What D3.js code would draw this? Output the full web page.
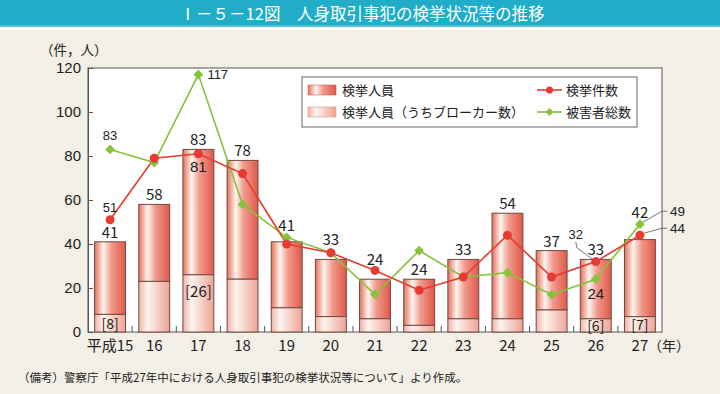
<!DOCTYPE html>
<html>
  <head>
    <meta charset="utf-8">
    <title>人身取引事犯の検挙状況等の推移</title>
    <style>
      body { margin: 0; background: #f2efe7; }
      svg { display: block; font-family: "Noto Sans CJK JP", "Noto Sans", sans-serif; }
      .tick text { font-size: 15px; fill: #222; }
      .bar { stroke: #6e4a42; stroke-width: 1px; }
      .lbl-bar { font-size: 15px; fill: #222; text-anchor: middle; }
      .lbl-pt { font-family: "Liberation Sans", Arial, sans-serif; font-size: 13px; fill: #222; text-anchor: middle; }
      .legend text { font-size: 13px; fill: #222; }
    </style>
  </head>
  <body>
    <script src="https://d3js.org/d3.v7.min.js"></script>
    <script>
      const width = 720;
      const height = 394;

      // data
      const years = ["平成15", "16", "17", "18", "19", "20", "21", "22", "23", "24", "25", "26", "27"];
      const arrested = [41, 58, 83, 78, 41, 33, 24, 24, 33, 54, 37, 33, 42];
      const brokers = [8, 23, 26, 24, 11, 7, 6, 3, 6, 6, 10, 6, 7];
      const cases = [51, 79, 81, 72, 40, 36, 28, 19, 25, 44, 25, 32, 44];
      const victims = [83, 77, 117, 58, 43, 36, 17, 37, 25, 27, 17, 24, 49];
      const yTicks = [0, 20, 40, 60, 80, 100, 120];

      // extra lift of bar value labels where lines would cover them
      const barLabelLift = [0, 0, 0, 0, 7, 10, 10, 0, 0, 0, 0, 0, 18];
      // brokers shown in brackets
      const brokerShown = [0, 2, 11, 12];

      const svg = d3.select("body")
        .append("svg")
        .attr("width", width)
        .attr("height", height);

      // gradients
      const defs = svg.append("defs");
      function gradient(id, stops) {
        const g = defs.append("linearGradient").attr("id", id)
          .attr("x1", "0%").attr("x2", "100%").attr("y1", "0%").attr("y2", "0%");
        stops.forEach(s => g.append("stop").attr("offset", s[0]).attr("stop-color", s[1]));
      }
      gradient("gMain", [["0%", "#e4705e"], ["12%", "#f0a797"], ["28%", "#fdf4ef"], ["55%", "#f0998a"], ["100%", "#e0584a"]]);
      gradient("gBroker", [["0%", "#f0b3a6"], ["28%", "#fcf4ef"], ["100%", "#eea495"]]);

      // title bar
      svg.append("rect").attr("x", 0).attr("y", 0).attr("width", width).attr("height", 27).attr("fill", "#21adc8");
      svg.append("rect").attr("x", 0).attr("y", 25).attr("width", width).attr("height", 2).attr("fill", "#5cc3d6");
      svg.append("rect").attr("x", 0).attr("y", 27).attr("width", width).attr("height", 3).attr("fill", "#ffffff");
      svg.append("text")
        .attr("x", 362).attr("y", 19.5)
        .attr("text-anchor", "middle")
        .attr("fill", "#fff")
        .style("font-size", "16.5px")
        .text("Ⅰ－５－12図　人身取引事犯の検挙状況等の推移");

      const plotL = 88, plotR = 662, plotT = 68, plotB = 332;

      const x = d3.scaleBand()
        .domain(years)
        .range([plotL, plotR])
        .paddingInner(0.3)
        .paddingOuter(0.15);

      const y = d3.scaleLinear()
        .domain([0, 120])
        .range([plotB, plotT]);

      const cx = d => x(d) + x.bandwidth() / 2;

      // plot area
      svg.append("rect")
        .attr("x", plotL).attr("y", plotT)
        .attr("width", plotR - plotL).attr("height", plotB - plotT)
        .attr("fill", "#fff")
        .attr("stroke", "#555").attr("stroke-width", 1);

      // y axis
      const yAxis = svg.append("g")
        .attr("transform", `translate(${plotL},0)`)
        .call(d3.axisLeft(y).tickValues(yTicks).tickSizeInner(-5).tickSizeOuter(0).tickPadding(7));
      yAxis.select(".domain").attr("stroke", "#555");
      yAxis.selectAll(".tick line").attr("stroke", "#555");

      svg.append("text")
        .attr("x", 40).attr("y", 55)
        .style("font-size", "13.5px").attr("fill", "#222")
        .text("（件，人）");

      // x ticks at band boundaries
      svg.append("g").selectAll("line")
        .data(years.slice(1))
        .join("line")
        .attr("x1", d => x(d) - x.step() * x.paddingInner() / 2)
        .attr("x2", d => x(d) - x.step() * x.paddingInner() / 2)
        .attr("y1", plotB).attr("y2", plotB - 6)
        .attr("stroke", "#555");

      svg.append("g").selectAll("text")
        .data(years)
        .join("text")
        .attr("x", cx)
        .attr("y", 351)
        .attr("text-anchor", "middle")
        .style("font-size", "15px").attr("fill", "#222")
        .text(d => d);
      svg.append("text")
        .attr("x", cx(years[12]) + 8).attr("y", 351)
        .style("font-size", "14px").attr("fill", "#222")
        .text("（年）");

      // bars
      const rows = years.map((yr, i) => ({ yr, i, total: arrested[i], broker: brokers[i] }));

      svg.append("g").selectAll("rect")
        .data(rows)
        .join("rect")
        .attr("class", "bar")
        .attr("x", d => x(d.yr))
        .attr("y", d => y(d.total))
        .attr("width", x.bandwidth())
        .attr("height", d => y(d.broker) - y(d.total))
        .attr("fill", "url(#gMain)");

      svg.append("g").selectAll("rect")
        .data(rows)
        .join("rect")
        .attr("class", "bar")
        .attr("x", d => x(d.yr))
        .attr("y", d => y(d.broker))
        .attr("width", x.bandwidth())
        .attr("height", d => y(0) - y(d.broker))
        .attr("fill", "url(#gBroker)");

      svg.append("g").selectAll("text")
        .data(rows)
        .join("text")
        .attr("class", "lbl-bar")
        .attr("x", d => cx(d.yr))
        .attr("y", d => y(d.total) - 4 - barLabelLift[d.i])
        .text(d => d.total);

      svg.append("g").selectAll("text")
        .data(rows.filter(d => brokerShown.includes(d.i)))
        .join("text")
        .attr("class", "lbl-bar")
        .attr("x", d => cx(d.yr))
        .attr("y", d => d.i === 2 ? y(d.broker) + 22 : y(d.broker) / 2 + y(0) / 2 + 5.5)
        .style("font-size", d => d.i === 2 ? "15px" : "14px")
        .text(d => `[${d.broker}]`);

      // lines
      const line = d3.line().x((d, i) => cx(years[i])).y(d => y(d));

      svg.append("path")
        .datum(victims)
        .attr("fill", "none").attr("stroke", "#86c23a").attr("stroke-width", 1.6)
        .attr("d", line);
      svg.append("path")
        .datum(cases)
        .attr("fill", "none").attr("stroke", "#e63b30").attr("stroke-width", 1.6)
        .attr("d", line);

      const diamond = d3.symbol().type(d3.symbolDiamond2).size(60);
      svg.append("g").selectAll("path")
        .data(victims)
        .join("path")
        .attr("d", diamond)
        .attr("transform", (d, i) => `translate(${cx(years[i])},${y(d)})`)
        .attr("fill", "#86c23a");

      svg.append("g").selectAll("circle")
        .data(cases)
        .join("circle")
        .attr("cx", (d, i) => cx(years[i]))
        .attr("cy", d => y(d))
        .attr("r", 4.5)
        .attr("fill", "#e63b30");

      // point labels
      const pl = svg.append("g");
      pl.append("text").attr("class", "lbl-pt").attr("x", cx(years[0])).attr("y", y(victims[0]) - 9).text(victims[0]);
      pl.append("text").attr("class", "lbl-pt").attr("x", cx(years[2]) + 9).attr("y", y(victims[2]) + 4.5)
        .style("text-anchor", "start").text(victims[2]);
      pl.append("text").attr("class", "lbl-pt").attr("x", cx(years[0])).attr("y", y(cases[0]) - 8).text(cases[0]);
      pl.append("text").attr("class", "lbl-pt").attr("x", cx(years[2])).attr("y", y(cases[2]) + 18)
        .style("font-size", "15px").text(cases[2]);
      pl.append("text").attr("class", "lbl-pt").attr("x", cx(years[11])).attr("y", y(victims[11]) + 20)
        .style("font-size", "15px").text(victims[11]);

      // 26 cases with leader
      const c26 = [cx(years[11]), y(cases[11])];
      pl.append("text").attr("class", "lbl-pt").attr("x", c26[0] - 20).attr("y", c26[1] - 23).text(cases[11]);
      pl.append("path")
        .attr("d", `M${c26[0] - 20},${c26[1] - 20}L${c26[0] - 19},${c26[1] - 14}L${c26[0] - 3},${c26[1] - 2}`)
        .attr("fill", "none").attr("stroke", "#555").attr("stroke-width", 0.8);

      // 27 labels outside the plot
      const v27 = [cx(years[12]), y(victims[12])];
      const c27 = [cx(years[12]), y(cases[12])];
      pl.append("path")
        .attr("d", `M${v27[0] + 3},${v27[1] - 2}L${plotR},${v27[1] - 13}L${plotR + 5},${v27[1] - 13}`)
        .attr("fill", "none").attr("stroke", "#555").attr("stroke-width", 0.8);
      pl.append("path")
        .attr("d", `M${c27[0] + 4},${c27[1] - 2}L${plotR},${c27[1] - 7}L${plotR + 5},${c27[1] - 7}`)
        .attr("fill", "none").attr("stroke", "#555").attr("stroke-width", 0.8);
      pl.append("text").attr("class", "lbl-pt").attr("x", plotR + 8).attr("y", v27[1] - 8.5)
        .style("text-anchor", "start").style("font-size", "13.5px").text(victims[12]);
      pl.append("text").attr("class", "lbl-pt").attr("x", plotR + 8).attr("y", c27[1] - 2.5)
        .style("text-anchor", "start").style("font-size", "13.5px").text(cases[12]);

      // legend
      const lg = svg.append("g").attr("class", "legend");
      lg.append("rect").attr("x", 302).attr("y", 77).attr("width", 335).attr("height", 50)
        .attr("fill", "#fff").attr("stroke", "#666").attr("stroke-width", 1);
      lg.append("rect").attr("x", 308).attr("y", 85).attr("width", 28).attr("height", 10)
        .attr("fill", "url(#gMain)").attr("stroke", "#c05040").attr("stroke-width", 0.5);
      lg.append("rect").attr("x", 308).attr("y", 107).attr("width", 28).attr("height", 10)
        .attr("fill", "url(#gBroker)").attr("stroke", "#d08878").attr("stroke-width", 0.5);
      lg.append("text").attr("x", 342).attr("y", 95).text("検挙人員");
      lg.append("text").attr("x", 342).attr("y", 117).text("検挙人員（うちブローカー数）");

      lg.append("line").attr("x1", 537).attr("x2", 562).attr("y1", 90).attr("y2", 90)
        .attr("stroke", "#e63b30").attr("stroke-width", 1.6);
      lg.append("circle").attr("cx", 549.5).attr("cy", 90).attr("r", 3.5).attr("fill", "#e63b30");
      lg.append("line").attr("x1", 537).attr("x2", 562).attr("y1", 112).attr("y2", 112)
        .attr("stroke", "#86c23a").attr("stroke-width", 1.6);
      lg.append("path").attr("d", d3.symbol().type(d3.symbolDiamond2).size(40))
        .attr("transform", "translate(549.5,112)").attr("fill", "#86c23a");
      lg.append("text").attr("x", 566).attr("y", 95).text("検挙件数");
      lg.append("text").attr("x", 566).attr("y", 117).text("被害者総数");

      // source
      svg.append("text")
        .attr("x", 18).attr("y", 382)
        .style("font-size", "11.5px").attr("fill", "#222")
        .text("（備考）警察庁「平成27年中における人身取引事犯の検挙状況等について」より作成。");
    </script>
  </body>
</html>
